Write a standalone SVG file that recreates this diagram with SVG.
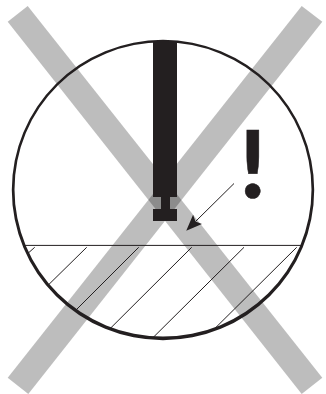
<svg xmlns="http://www.w3.org/2000/svg" width="326" height="394" viewBox="0 0 326 394">
  <style>
    .band{fill:#000;fill-opacity:.26}
    .ink{fill:#231f20}
    .thin{stroke:#231f20;stroke-width:1;fill:none}
    .mark{font-family:"Lato",sans-serif;font-weight:900;font-size:93px;fill:#231f20;stroke:#231f20;stroke-width:.5;text-anchor:middle}
  </style>
  <defs>
    <marker id="head" markerUnits="userSpaceOnUse" markerWidth="17" markerHeight="15" refX="3" refY="7" orient="auto">
      <path d="M16,7 L0,0.5 L3,7 L0,13.5 Z" fill="#231f20"/>
    </marker>
  </defs>
  <rect width="326" height="394" fill="#fff"/>
  <g id="cross">
    <polygon class="band" points="27.7,6 322.3,377.7 301.7,394 7.7,21.7"/>
    <polygon class="band" points="301.7,6 322.3,21.7 28.3,394 7.7,377.7"/>
  </g>
  <g id="circle">
    <path class="ink" fill-rule="evenodd" d="M11.8,190a151.2,150.2 0 1,0 302.4,0a151.2,150.2 0 1,0 -302.4,0Z M14.5,189.4a148.5,147.2 0 1,0 297,0a148.5,147.2 0 1,0 -297,0Z"/>
  </g>
  <g id="ground">
    <line class="thin" x1="25" y1="245.4" x2="301" y2="245.4"/>
    <line class="thin" x1="34.7" y1="247.3" x2="28" y2="253.3"/>
    <line class="thin" x1="86.7" y1="247.3" x2="48.3" y2="285"/>
    <line class="thin" x1="138.7" y1="247.3" x2="76" y2="310"/>
    <line class="thin" x1="191.7" y1="247.3" x2="110" y2="328.7"/>
    <line class="thin" x1="244" y1="247.3" x2="152.3" y2="338.3"/>
    <line class="thin" x1="296.7" y1="247.3" x2="213.3" y2="330"/>
  </g>
  <g id="pin">
    <rect class="ink" x="153" y="41" width="24" height="156"/>
    <rect class="ink" x="161" y="197" width="9" height="12"/>
    <rect class="ink" x="153" y="209" width="24" height="12"/>
  </g>
  <g id="warning">
    <text class="mark" x="252.7" y="198">!</text>
  </g>
  <g id="connectors">
    <line class="thin" x1="234" y1="183.5" x2="195.5" y2="221.5" marker-end="url(#head)"/>
  </g>
</svg>
